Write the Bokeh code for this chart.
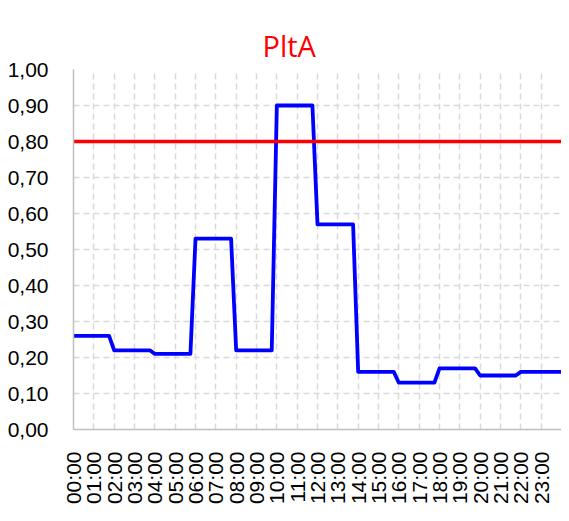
import math
from bokeh.plotting import figure
from bokeh.models import FixedTicker, Range1d
from bokeh.embed import file_html
from bokeh.resources import INLINE

hourly_plta = [0.26, 0.26, 0.22, 0.22, 0.21, 0.21, 0.53, 0.53, 0.22, 0.22, 0.90, 0.90,
               0.57, 0.57, 0.16, 0.16, 0.13, 0.13, 0.17, 0.17, 0.15, 0.15, 0.16, 0.16]
limit_value = 0.80
hour_ticks = list(range(24))
hour_labels = ["%02d:00" % h for h in hour_ticks]
y_ticks = [0.0, 0.1, 0.2, 0.3, 0.4, 0.5, 0.6, 0.7, 0.8, 0.9, 1.0]
y_labels = ["0,00", "0,10", "0,20", "0,30", "0,40", "0,50", "0,60", "0,70", "0,80", "0,90", "1,00"]
samples_per_hour = 4

times = []
values = []
for h, v in enumerate(hourly_plta):
    for q in range(samples_per_hour):
        times.append(h + q / samples_per_hour)
        values.append(v)
times.append(24.0)
values.append(hourly_plta[-1])
limit = [limit_value] * len(times)

p = figure(width=561, height=513, output_backend="svg", toolbar_location=None,
           x_range=Range1d(0, 24), y_range=Range1d(0, 1.0),
           min_border_left=73, min_border_right=0, min_border_top=69, min_border_bottom=84,
           title="PltA")
p.outline_line_color = None
p.background_fill_color = "white"
p.border_fill_color = "white"

p.title.text_color = "#ff0000"
p.title.text_font = "Open Sans"
p.title.text_font_size = "29px"
p.title.text_font_style = "normal"
p.title.align = "left"
p.title.offset = 189

grid_color = "#d9d9d9"
p.xgrid.ticker = FixedTicker(ticks=list(range(25)))
p.ygrid.ticker = FixedTicker(ticks=y_ticks)
for g in (p.xgrid, p.ygrid):
    g.grid_line_color = grid_color
    g.grid_line_dash = "6 4"
    g.grid_line_width = 1.5

p.xaxis.ticker = FixedTicker(ticks=hour_ticks)
p.xaxis.major_label_overrides = {t: l for t, l in zip(hour_ticks, hour_labels)}
p.xaxis.major_label_orientation = math.pi / 2
p.yaxis.ticker = FixedTicker(ticks=y_ticks)
p.yaxis.major_label_overrides = {t: l for t, l in zip(y_ticks, y_labels)}

for ax in (p.xaxis, p.yaxis):
    ax.axis_line_color = "#bfbfbf"
    ax.axis_line_width = 1.5
    ax.major_tick_line_color = None
    ax.minor_tick_line_color = None
    ax.major_label_text_font = "Liberation Sans"
    ax.major_label_text_font_size = "21px"
    ax.major_label_text_color = "#000000"
p.xaxis.major_label_standoff = 16
p.yaxis.major_label_standoff = 19

p.line(times, values, line_color="#0000ff", line_width=3.8, line_join="round")
p.line(times, limit, line_color="#ff0000", line_width=3.5)

open("out.html", "w").write(file_html(p, INLINE))
